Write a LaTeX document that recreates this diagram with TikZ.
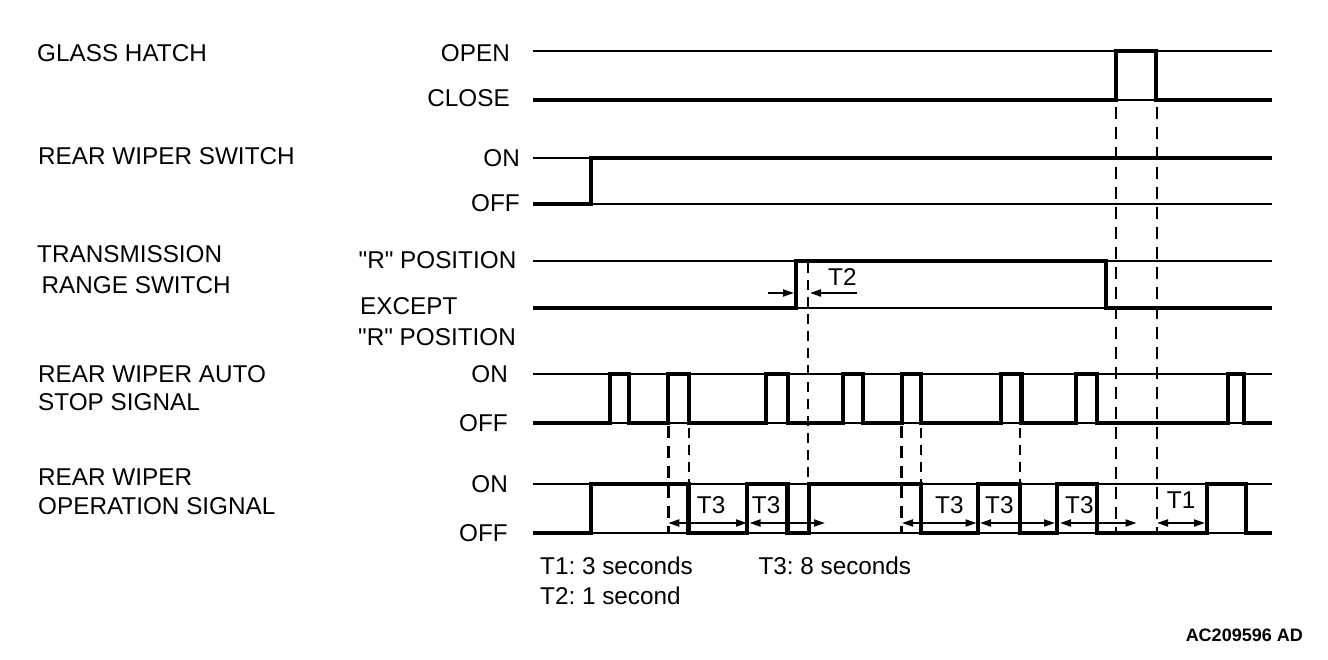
\documentclass[tikz,border=0pt]{standalone}
\usepackage{fontspec}
\setmainfont{Liberation Sans}[Ligatures=TeXOff]
\usetikzlibrary{arrows.meta}
\begin{document}
\frenchspacing
\begin{tikzpicture}[x=1pt,y=-1pt,
  lvl/.style={line width=1.7pt},
  sigline/.style={line width=4.2pt, line join=miter},
  thickdash/.style={line width=2.8pt, dash pattern=on 12pt off 8pt},
  thindash/.style={line width=1.5pt, dash pattern=on 10pt off 7pt},
  dimtip/.tip={Triangle[length=11pt,width=7pt]},
  dimboth/.style={line width=1.9pt, dimtip-dimtip},
  dimone/.style={line width=1.9pt, -dimtip},
  lbl/.style={inner sep=0pt, font=\fontsize{24.3}{29}\selectfont},
  lblL/.style={lbl, anchor=base west},
  lblR/.style={lbl, anchor=base east},
]
\useasboundingbox (0,0) rectangle (1328,660);

% ---------- labels (left column) ----------
\node[lblL] (gh)  at (37,61.5)  {GLASS HATCH};
\node[lblL] (rws) at (38,165)   {REAR WIPER SWITCH};
\node[lblL] (trs1) at (37,262.5) {TRANSMISSION};
\node[lblL] (trs2) at (41.5,293.5) {RANGE SWITCH};
\node[lblL] (as1) at (38,382)   {REAR WIPER AUTO};
\node[lblL] (as2) at (38,410)   {STOP SIGNAL};
\node[lblL] (op1) at (38,485.5) {REAR WIPER};
\node[lblL] (op2) at (38,514.5) {OPERATION SIGNAL};

% ---------- level labels ----------
\node[lblR] (ghopen)  at (510,61.5)  {OPEN};
\node[lblR] (ghclose) at (510,106.5) {CLOSE};
\node[lblR] (rwson)   at (520,166.5) {ON};
\node[lblR] (rwsoff)  at (520,211.5) {OFF};
\node[lblR] (trsr)    at (516.5,268.5) {"R" POSITION};
\node[lblL] (trse1)   at (360,315)   {EXCEPT};
\node[lblL] (trse2)   at (358,345)   {"R" POSITION};
\node[lblR] (ason)    at (508,382.5) {ON};
\node[lblR] (asoff)   at (508,431)   {OFF};
\node[lblR] (opon)    at (508,492.5) {ON};
\node[lblR] (opoff)   at (508,541)   {OFF};

% ---------- thin level lines ----------
\foreach \yy in {51,100,158,203.7,260.7,308,374.3,422.7,484,533}
  \draw[lvl] (533,\yy) -- (1272,\yy);

% ---------- dashed guide lines ----------
\draw[thickdash] (1116,107) -- (1116,533);
\draw[thickdash] (1157,107) -- (1157,533);
\draw[thickdash] (668.3,426) -- (668.3,533);
\draw[thickdash] (901.7,426) -- (901.7,533);
\draw[thindash] (808,263) -- (808,484);
\draw[thindash] (689,428) -- (689,484);
\draw[thindash] (921,428) -- (921,484);
\draw[thindash] (1020,428) -- (1020,484);

% ---------- signals ----------
% glass hatch
\draw[sigline] (533,100) -- (1116,100) -- (1116,51) -- (1156,51) -- (1156,100) -- (1272,100);
% rear wiper switch
\draw[sigline] (533,203.7) -- (591,203.7) -- (591,158) -- (1272,158);
% transmission range switch
\draw[sigline] (533,308) -- (796,308) -- (796,260.7) -- (1105.7,260.7) -- (1105.7,308) -- (1272,308);
% auto stop signal
\draw[sigline] (533,422.7)
  -- (610,422.7) -- (610,374.3) -- (629.3,374.3) -- (629.3,422.7)
  -- (668.3,422.7) -- (668.3,374.3) -- (689,374.3) -- (689,422.7)
  -- (766,422.7) -- (766,374.3) -- (787.7,374.3) -- (787.7,422.7)
  -- (843.3,422.7) -- (843.3,374.3) -- (863.3,374.3) -- (863.3,422.7)
  -- (901.7,422.7) -- (901.7,374.3) -- (921.3,374.3) -- (921.3,422.7)
  -- (1001,422.7) -- (1001,374.3) -- (1021.5,374.3) -- (1021.5,422.7)
  -- (1076,422.7) -- (1076,374.3) -- (1096.7,374.3) -- (1096.7,422.7)
  -- (1228,422.7) -- (1228,374.3) -- (1244.3,374.3) -- (1244.3,422.7)
  -- (1272,422.7);
% operation signal
\draw[sigline] (533,533)
  -- (591,533) -- (591,484) -- (688.5,484) -- (688.5,533)
  -- (747.3,533) -- (747.3,484) -- (787.5,484) -- (787.5,533)
  -- (809,533) -- (809,484) -- (921,484) -- (921,533)
  -- (978.3,533) -- (978.3,484) -- (1020,484) -- (1020,533)
  -- (1056.7,533) -- (1056.7,484) -- (1096.7,484) -- (1096.7,533)
  -- (1206.7,533) -- (1206.7,484) -- (1245.7,484) -- (1245.7,533)
  -- (1272,533);

% ---------- T2 ----------
\coordinate (t2a) at (768,293);
\coordinate (t2b) at (794,293);
\coordinate (t2c) at (857,293);
\coordinate (t2d) at (810,293);
\draw[dimone] (t2a) -- (t2b);
\draw[dimone] (t2c) -- (t2d);
\node[lblL] (t2l) at (828,286) {T2};

% ---------- T3 / T1 dimension arrows ----------
\coordinate (d1a) at (668.3,523); \coordinate (d1b) at (747,523);
\coordinate (d2a) at (749.5,523); \coordinate (d2b) at (825,523);
\coordinate (d3a) at (902,523);   \coordinate (d3b) at (976.5,523);
\coordinate (d4a) at (980,523);   \coordinate (d4b) at (1055,523);
\coordinate (d5a) at (1060,523);  \coordinate (d5b) at (1136.5,523);
\coordinate (d6a) at (1157,523);  \coordinate (d6b) at (1205,523);
\draw[dimboth] (d1a) -- (d1b);
\draw[dimboth] (d2a) -- (d2b);
\draw[dimboth] (d3a) -- (d3b);
\draw[dimboth] (d4a) -- (d4b);
\draw[dimboth] (d5a) -- (d5b);
\draw[dimboth] (d6a) -- (d6b);
\node[lblL] (t3a) at (696.7,513) {T3};
\node[lblL] (t3b) at (751.7,513) {T3};
\node[lblL] (t3c) at (935,513)   {T3};
\node[lblL] (t3d) at (985,513)   {T3};
\node[lblL] (t3e) at (1065,513)  {T3};
\node[lblL] (t1)  at (1166.7,508) {T1};

% ---------- legend ----------
\node[lblL] (leg1) at (540,574) {T1: 3 seconds};
\node[lblL] (leg3) at (758.3,574) {T3: 8 seconds};
\node[lblL] (leg2) at (540,604) {T2: 1 second};
\node[inner sep=0pt, anchor=base east, font=\fontsize{18}{21}\selectfont\bfseries] (code) at (1303,641.7) {AC209596 AD};
\end{tikzpicture}
\end{document}
